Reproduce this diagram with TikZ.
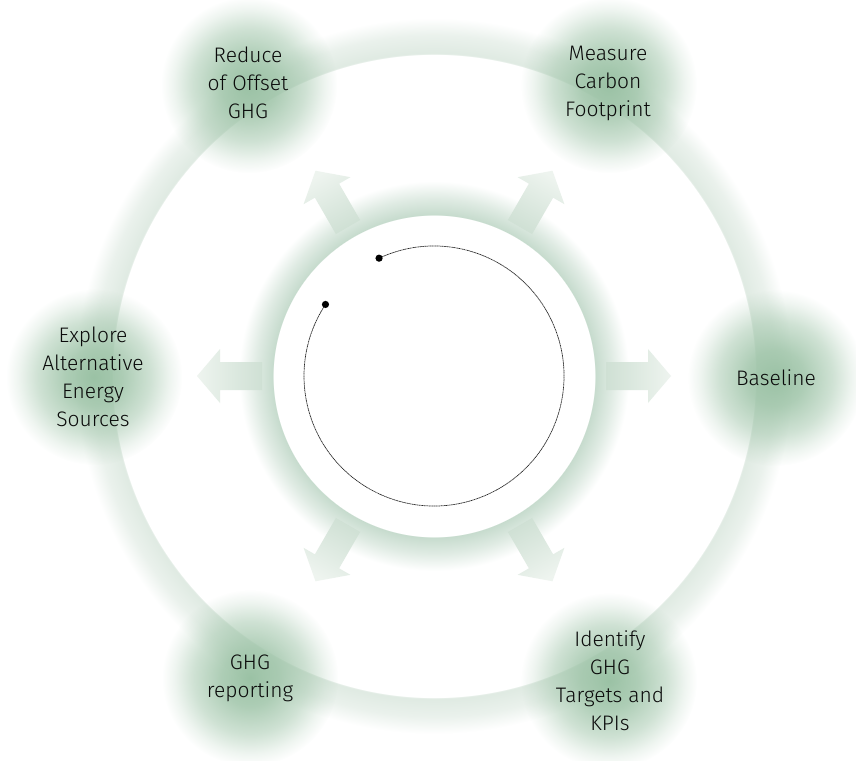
\documentclass[tikz,border=0pt]{standalone}
\usepackage{fontspec}
\setmainfont{Fira Sans}[UprightFont={* Light}]
\usetikzlibrary{fadings,calc}
\definecolor{ringA}{RGB}{223,234,226}
\definecolor{ringB}{RGB}{198,219,205}
\definecolor{glowc}{RGB}{155,194,165}
\definecolor{arrtail}{RGB}{207,224,212}
\definecolor{arrtip}{RGB}{238,244,239}
\definecolor{txt}{RGB}{10,10,10}
\pgfdeclareradialshading{bigring}{\pgfpointorigin}{color(0bp)=(white); color(22.48bp)=(white); color(22.5bp)=(ringA); color(23.8bp)=(ringA!65!white); color(25bp)=(white); color(50bp)=(white)}
\pgfdeclareradialshading{innerring}{\pgfpointorigin}{color(0bp)=(white); color(20.62bp)=(white); color(20.65bp)=(ringB); color(22.8bp)=(ringB!55!white); color(25bp)=(white); color(50bp)=(white)}
\pgfdeclareradialshading{glowmask}{\pgfpointorigin}{color(0bp)=(white); color(8bp)=(white!82!black); color(16bp)=(white!48!black); color(21.5bp)=(white!16!black); color(25bp)=(black); color(50bp)=(black)}
\pgfdeclarefading{glowfade}{\pgfuseshading{glowmask}}
\tikzset{
  lbl/.style={align=center, text=txt, font=\fontsize{21}{28}\selectfont, inner sep=0pt},
  glow/.style={fill=glowc, path fading=glowfade},
  blockarrow/.style={top color=arrtip, bottom color=arrtail, draw=none},
}
\begin{document}
\begin{tikzpicture}[x=1pt,y=-1pt]
\useasboundingbox (0,0) rectangle (856,760);
\coordinate (c) at (434,376);
% big outer ring
\shade[shading=bigring] (c) circle (358);
% inner ring
\shade[shading=innerring] (c) circle (195);
% block arrows
\foreach \a in {0,60,120,180,240,300}{
  \begin{scope}[shift={(c)}, rotate=\a]
    \shade[blockarrow, shading angle=\a-90]
      (172,-14) -- (214,-14) -- (214,-27) -- (237,0) -- (214,27) -- (214,14) -- (172,14) -- cycle;
  \end{scope}
}
% thin arc with dots
\coordinate (d1) at ($(c)+(-115:130)$);
\coordinate (d2) at ($(c)+(213.4:130)$);
\draw[line width=0.7pt, black!85, dash pattern=on 1.2pt off 0.5pt] (d1) arc[start angle=-115, end angle=213.4, radius=130];
\fill[black] (d1) circle (3.6);
\fill[black] (d2) circle (3.6);
% node glows
\fill[glow] (249,85) circle (88);
\fill[glow] (609,85) circle (88);
\fill[glow] (776,378) circle (88);
\fill[glow] (94,377) circle (88);
\fill[glow] (250,678) circle (88);
\fill[glow] (609,681) circle (88);
% labels
\node[lbl] (reduce) at (248,83) {Reduce\\of Offset\\GHG};
\node[lbl] (measure) at (608,83) {Measure\\Carbon\\Footprint};
\node[lbl] (baseline) at (776,378) {Baseline};
\node[lbl] (explore) at (93,377) {Explore\\Alternative\\Energy\\Sources};
\node[lbl] (report) at (250,678) {GHG\\reporting};
\node[lbl] (identify) at (610,681) {Identify\\GHG\\Targets and\\KPIs};
\end{tikzpicture}
\end{document}
